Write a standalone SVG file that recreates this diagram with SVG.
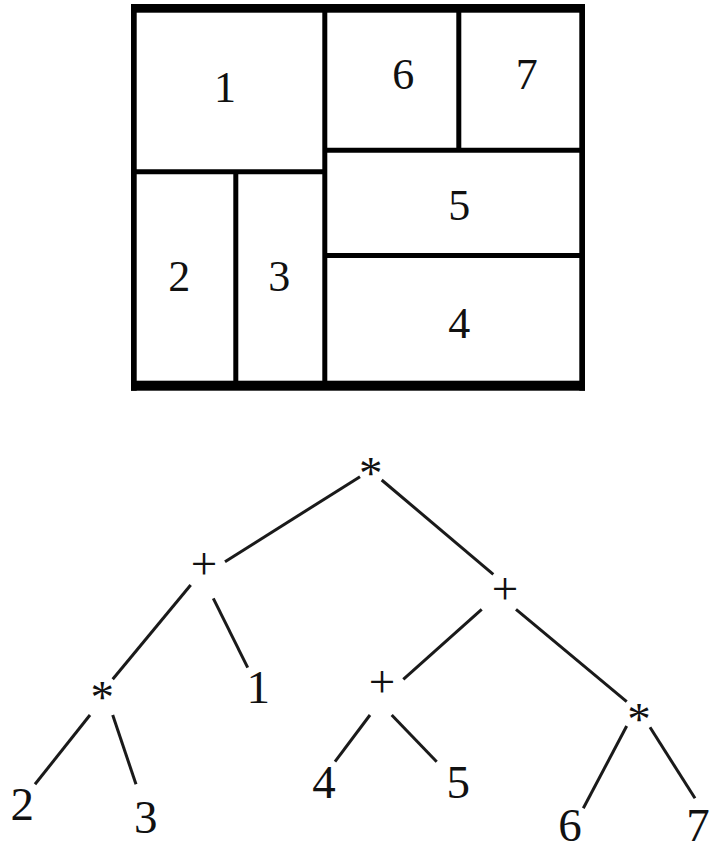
<svg xmlns="http://www.w3.org/2000/svg" width="711" height="846" viewBox="0 0 711 846">
  <style>
    .wall { fill: #000; }
    .div { stroke: #000; stroke-width: 5; fill: none; }
    .room { font-family: "Liberation Serif", "Times New Roman", serif; font-size: 44px; fill: #111; text-anchor: middle; }
    .lbl { font-family: "Liberation Serif", "Times New Roman", serif; font-size: 47px; fill: #111; text-anchor: middle; }
    .edge { stroke: #1a1a1a; stroke-width: 3; fill: none; }
  </style>
  <rect width="711" height="846" fill="#fff"/>

  <!-- Floorplan: outer frame -->
  <g id="floorplan">
    <rect class="wall" x="131" y="4" width="454" height="8.7"/>
    <rect class="wall" x="131" y="380.7" width="454" height="10"/>
    <rect class="wall" x="131" y="4" width="5.7" height="386.7"/>
    <rect class="wall" x="579.3" y="4" width="5.7" height="386.7"/>
    <!-- partitions -->
    <line class="div" x1="324.8" y1="12" x2="324.8" y2="381"/>
    <line class="div" x1="136" y1="171.7" x2="325" y2="171.7"/>
    <line class="div" x1="235.8" y1="171.7" x2="235.8" y2="381"/>
    <line class="div" x1="458.8" y1="12" x2="458.8" y2="150"/>
    <line class="div" x1="325" y1="150.3" x2="580" y2="150.3" stroke-width="6"/>
    <line class="div" x1="325" y1="255.5" x2="580" y2="255.5"/>
    <!-- room numbers -->
    <text class="room" x="225" y="102">1</text>
    <text class="room" x="403.3" y="89.3">6</text>
    <text class="room" x="526.7" y="89.3">7</text>
    <text class="room" x="459.3" y="220">5</text>
    <text class="room" x="179.3" y="290.7">2</text>
    <text class="room" x="279.3" y="290.7">3</text>
    <text class="room" x="459.3" y="338.3">4</text>
  </g>

  <!-- Slicing tree connectors -->
  <g id="connectors">
    <line class="edge" x1="360" y1="476.7" x2="225" y2="561.7"/>
    <line class="edge" x1="381.7" y1="480" x2="493.3" y2="574.3"/>
    <line class="edge" x1="190.7" y1="585" x2="112.7" y2="679.3"/>
    <line class="edge" x1="213.3" y1="598.3" x2="247.7" y2="667.7"/>
    <line class="edge" x1="90" y1="715" x2="35" y2="784.3"/>
    <line class="edge" x1="112.7" y1="715" x2="136" y2="784.3"/>
    <line class="edge" x1="481.7" y1="609.3" x2="403.3" y2="679.3"/>
    <line class="edge" x1="516" y1="609.3" x2="626.7" y2="701.7"/>
    <line class="edge" x1="370" y1="715" x2="335" y2="761.7"/>
    <line class="edge" x1="391.7" y1="715" x2="436.7" y2="761.7"/>
    <line class="edge" x1="626.7" y1="726" x2="583.3" y2="808.3"/>
    <line class="edge" x1="650" y1="727.3" x2="695" y2="798.3"/>
  </g>

  <!-- Slicing tree nodes -->
  <g id="n-root"><text class="lbl" x="370.7" y="489">*</text></g>
  <g id="n-plus-l"><text class="lbl" x="204" y="578.5">+</text></g>
  <g id="n-plus-r"><text class="lbl" x="505" y="604">+</text></g>
  <g id="n-star-l"><text class="lbl" x="102.3" y="713">*</text></g>
  <g id="n-1"><text class="lbl" x="258.3" y="703.3">1</text></g>
  <g id="n-plus-m"><text class="lbl" x="382" y="697">+</text></g>
  <g id="n-star-r"><text class="lbl" x="639" y="734.5">*</text></g>
  <g id="n-2"><text class="lbl" x="22.3" y="820">2</text></g>
  <g id="n-3"><text class="lbl" x="145.7" y="833.3">3</text></g>
  <g id="n-4"><text class="lbl" x="324" y="798.3">4</text></g>
  <g id="n-5"><text class="lbl" x="458.3" y="798.3">5</text></g>
  <g id="n-6"><text class="lbl" x="570" y="841">6</text></g>
  <g id="n-7"><text class="lbl" x="698" y="841">7</text></g>
</svg>
